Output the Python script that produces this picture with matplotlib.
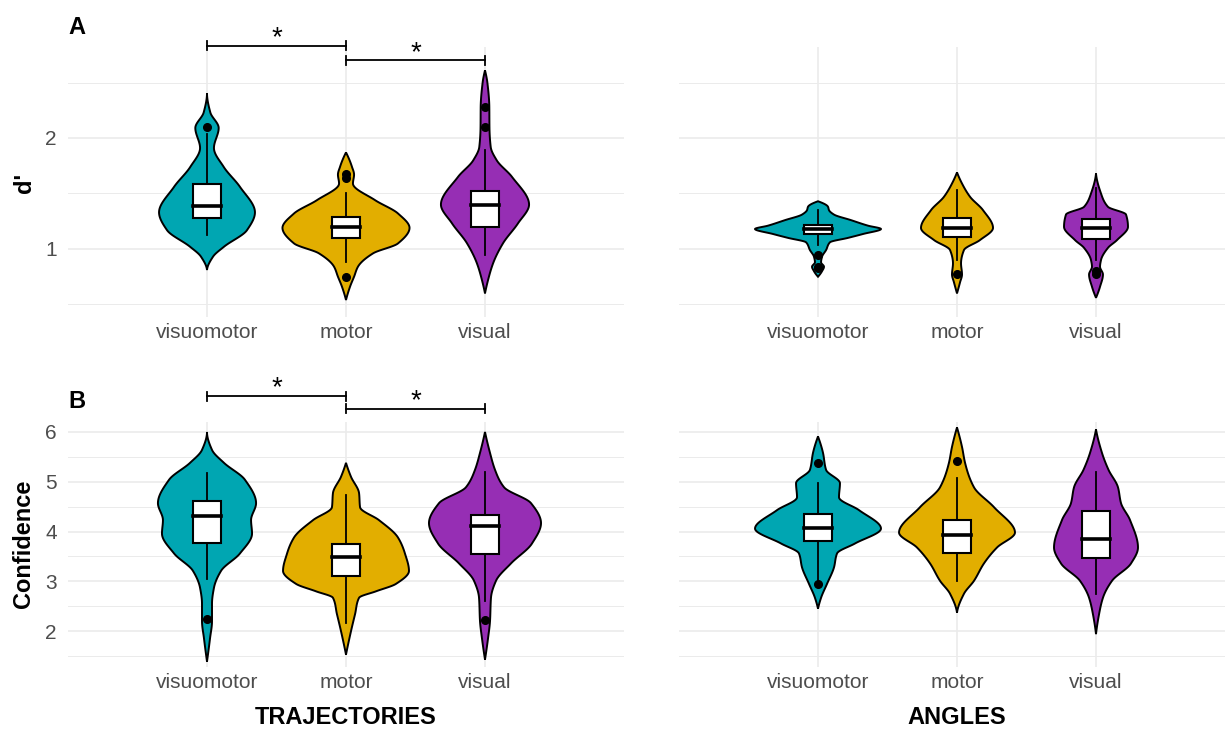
import numpy as np
import matplotlib
matplotlib.use("agg")
import matplotlib.pyplot as plt
from matplotlib.patches import Rectangle

plt.rcParams["font.family"] = ["Liberation Sans", "DejaVu Sans"]

conditions = ["visuomotor", "motor", "visual"]
colors = ["#00A6B2", "#E2AE00", "#962EB4"]

# violin outlines: y levels and half widths (x units)
traj_dprime_levels = [
    [0.81, 0.93, 1.02, 1.17, 1.33, 1.56, 1.74, 1.91, 2.09, 2.23, 2.405],
    [0.54, 0.66, 0.75, 0.84, 0.96, 1.05, 1.19, 1.32, 1.44, 1.59, 1.67, 1.74, 1.87],
    [0.60, 0.72, 0.87, 1.05, 1.23, 1.40, 1.65, 1.80, 1.92, 2.10, 2.28, 2.50, 2.61],
]
traj_dprime_halfw = [
    [0, .043, .122, .288, .345, .237, .120, .050, .084, .024, 0],
    [0, .029, .058, .086, .194, .374, .457, .374, .209, .050, .058, .043, 0],
    [0, .022, .058, .129, .237, .317, .194, .084, .041, .032, .031, .017, 0],
]
# q1, median, q3, lower whisker, upper whisker
traj_dprime_box = [(1.28, 1.39, 1.585, 1.13, 2.04),
                   (1.10, 1.20, 1.29, 0.88, 1.50),
                   (1.20, 1.40, 1.52, 0.95, 1.89)]
traj_dprime_out = [[2.10], [1.68, 1.64, 0.75], [2.28, 2.10]]

ang_dprime_levels = [
    [0.75, 0.80, 0.84, 0.88, 0.93, 0.99, 1.06, 1.10, 1.135, 1.18, 1.21, 1.26, 1.31, 1.35, 1.38, 1.43],
    [0.60, 0.70, 0.77, 0.87, 0.99, 1.08, 1.19, 1.35, 1.47, 1.59, 1.69],
    [0.56, 0.66, 0.77, 0.84, 0.90, 1.01, 1.08, 1.20, 1.31, 1.38, 1.50, 1.68],
]
ang_dprime_halfw = [
    [0, .029, .043, .022, .029, .058, .086, .216, .324, .453, .360, .237, .115, .079, .072, 0],
    [0, .022, .036, .029, .050, .165, .259, .187, .094, .036, 0],
    [0, .029, .050, .029, .036, .086, .151, .230, .216, .086, .036, 0],
]
ang_dprime_box = [(1.135, 1.18, 1.22, 1.04, 1.35),
                  (1.11, 1.19, 1.28, 0.90, 1.53),
                  (1.09, 1.19, 1.27, 0.90, 1.55)]
ang_dprime_out = [[0.95, 0.84, 0.83], [0.77], [0.77, 0.80]]

traj_conf_levels = [
    [1.39, 1.86, 2.20, 2.55, 2.87, 3.21, 3.56, 3.96, 4.23, 4.57, 5.04, 5.38, 5.64, 6.0],
    [1.53, 2.0, 2.34, 2.67, 2.80, 2.95, 3.21, 3.56, 3.88, 4.23, 4.49, 4.77, 5.10, 5.38],
    [1.43, 1.86, 2.20, 2.67, 3.01, 3.36, 3.76, 4.17, 4.57, 4.89, 5.24, 5.58, 6.0],
]
traj_conf_halfw = [
    [0, .022, .036, .036, .050, .101, .237, .324, .317, .353, .273, .122, .036, 0],
    [0, .036, .065, .094, .216, .360, .453, .424, .374, .237, .101, .094, .036, 0],
    [0, .022, .036, .043, .079, .187, .338, .403, .331, .137, .072, .036, 0],
]
traj_conf_box = [(3.78, 4.31, 4.61, 3.05, 5.18),
                 (3.11, 3.48, 3.76, 2.16, 4.73),
                 (3.54, 4.11, 4.33, 2.61, 5.20)]
traj_conf_out = [[2.24], [], [2.22]]

ang_conf_levels = [
    [2.45, 2.67, 2.95, 3.28, 3.56, 3.76, 4.06, 4.43, 4.69, 4.97, 5.24, 5.58, 5.91],
    [2.37, 2.75, 3.01, 3.36, 3.68, 3.98, 4.49, 4.89, 5.38, 5.70, 6.09],
    [1.94, 2.34, 2.67, 3.01, 3.36, 3.68, 4.23, 4.57, 4.89, 5.24, 5.58, 6.05],
]
ang_conf_halfw = [
    [0, .022, .065, .115, .137, .266, .453, .295, .151, .158, .058, .036, 0],
    [0, .050, .122, .194, .288, .417, .266, .122, .058, .036, 0],
    [0, .022, .050, .115, .252, .302, .245, .180, .158, .090, .043, 0],
]
ang_conf_box = [(3.82, 4.07, 4.35, 3.01, 4.97),
                (3.56, 3.94, 4.23, 3.01, 5.08),
                (3.46, 3.86, 4.41, 2.75, 5.20)]
ang_conf_out = [[5.38, 2.95], [5.42], []]


def pchip(x, y, xn):
    # shape preserving cubic so the outline is smooth but never overshoots
    x = np.asarray(x, float)
    y = np.asarray(y, float)
    h = np.diff(x)
    d = np.diff(y) / h
    n = len(x)
    m = np.zeros(n)
    for k in range(1, n - 1):
        if d[k - 1] * d[k] > 0:
            w1 = 2 * h[k] + h[k - 1]
            w2 = h[k] + 2 * h[k - 1]
            m[k] = (w1 + w2) / (w1 / d[k - 1] + w2 / d[k])
    for k, (h0, h1, d0, d1) in ((0, (h[0], h[1], d[0], d[1])),
                                (n - 1, (h[-1], h[-2], d[-1], d[-2]))):
        mk = ((2 * h0 + h1) * d0 - h0 * d1) / (h0 + h1)
        if np.sign(mk) != np.sign(d0):
            mk = 0.0
        elif np.sign(d0) != np.sign(d1) and abs(mk) > abs(3 * d0):
            mk = 3 * d0
        m[k] = mk
    idx = np.clip(np.searchsorted(x, xn) - 1, 0, n - 2)
    t = (xn - x[idx]) / h[idx]
    h00 = 2 * t ** 3 - 3 * t ** 2 + 1
    h10 = t ** 3 - 2 * t ** 2 + t
    h01 = -2 * t ** 3 + 3 * t ** 2
    h11 = t ** 3 - t ** 2
    return (h00 * y[idx] + h10 * h[idx] * m[idx]
            + h01 * y[idx + 1] + h11 * h[idx] * m[idx + 1])


def draw_panel(ax, levels, halfw, boxes, outs):
    for i in range(3):
        x = i + 1
        y = np.linspace(levels[i][0], levels[i][-1], 300)
        w = np.clip(pchip(levels[i], halfw[i], y), 0, None)
        ax.fill(np.concatenate([x - w, (x + w)[::-1]]),
                np.concatenate([y, y[::-1]]),
                facecolor=colors[i], edgecolor="black", lw=1.4, zorder=2)
        q1, med, q3, lo, hi = boxes[i]
        ax.plot([x, x], [lo, q1], color="black", lw=1.3, zorder=3)
        ax.plot([x, x], [q3, hi], color="black", lw=1.3, zorder=3)
        ax.add_patch(Rectangle((x - 0.1, q1), 0.2, q3 - q1, facecolor="white",
                               edgecolor="black", lw=1.5, zorder=4))
        ax.plot([x - 0.1, x + 0.1], [med, med], color="black", lw=2.6, zorder=5)
        if outs[i]:
            ax.plot([x] * len(outs[i]), outs[i], "o", color="black", ms=5.5, zorder=6)


def style_axes(ax, major, minor, ylim, show_y):
    ax.set_xlim(0, 4)
    ax.set_ylim(*ylim)
    ax.set_xticks([1, 2, 3])
    ax.set_xticklabels(conditions)
    ax.set_yticks(major)
    ax.set_yticks(minor, minor=True)
    ax.grid(which="major", color="#EBEBEB", lw=1.2)
    ax.grid(which="minor", axis="y", color="#EBEBEB", lw=0.7)
    ax.set_axisbelow(True)
    for s in ax.spines.values():
        s.set_visible(False)
    ax.tick_params(which="both", length=0, labelsize=15, colors="#4D4D4D", pad=4)
    ax.tick_params(axis="y", pad=8)
    if not show_y:
        ax.set_yticklabels([])


def bracket(ax, x1, x2, y, cap):
    ax.plot([x1, x2], [y, y], color="black", lw=1.3, clip_on=False, zorder=7)
    for xx in (x1, x2):
        ax.plot([xx, xx], [y - cap, y + cap], color="black", lw=1.3, clip_on=False, zorder=7)
    ax.annotate("*", xy=((x1 + x2) / 2, y), xytext=(0, -4), textcoords="offset points",
                ha="center", va="bottom", fontsize=20, annotation_clip=False)


W, H = 1225, 730
fig = plt.figure(figsize=(W / 100, H / 100), dpi=100)

ax_tl = fig.add_axes([68 / W, 1 - 317 / H, 556 / W, 270 / H])
ax_tr = fig.add_axes([679 / W, 1 - 317 / H, 556 / W, 270 / H])
ax_bl = fig.add_axes([68 / W, 1 - 667 / H, 556 / W, 245 / H])
ax_br = fig.add_axes([679 / W, 1 - 667 / H, 556 / W, 245 / H])

draw_panel(ax_tl, traj_dprime_levels, traj_dprime_halfw, traj_dprime_box, traj_dprime_out)
draw_panel(ax_tr, ang_dprime_levels, ang_dprime_halfw, ang_dprime_box, ang_dprime_out)
draw_panel(ax_bl, traj_conf_levels, traj_conf_halfw, traj_conf_box, traj_conf_out)
draw_panel(ax_br, ang_conf_levels, ang_conf_halfw, ang_conf_box, ang_conf_out)

top_lim = (0.387, 2.82)
bot_lim = (1.28, 6.2)
style_axes(ax_tl, [1, 2], [0.5, 1.5, 2.5], top_lim, True)
style_axes(ax_tr, [1, 2], [0.5, 1.5, 2.5], top_lim, False)
style_axes(ax_bl, [2, 3, 4, 5, 6], [1.5, 2.5, 3.5, 4.5, 5.5], bot_lim, True)
style_axes(ax_br, [2, 3, 4, 5, 6], [1.5, 2.5, 3.5, 4.5, 5.5], bot_lim, False)

bracket(ax_tl, 1, 2, 2.83, 0.04)
bracket(ax_tl, 2, 3, 2.70, 0.04)
bracket(ax_bl, 1, 2, 6.72, 0.09)
bracket(ax_bl, 2, 3, 6.47, 0.09)

fig.text(68 / W, 1 - 27 / H, "A", fontsize=17, fontweight="bold", va="center", ha="left")
fig.text(68 / W, 1 - 401 / H, "B", fontsize=17, fontweight="bold", va="center", ha="left")
fig.text(24 / W, 1 - 183 / H, "d'", fontsize=17, fontweight="bold", rotation=90,
         va="center", ha="center")
fig.text(24 / W, 1 - 544 / H, "Confidence", fontsize=17, fontweight="bold", rotation=90,
         va="center", ha="center")
fig.text(346 / W, 1 - 718 / H, "TRAJECTORIES", fontsize=17, fontweight="bold",
         va="center", ha="center")
fig.text(957 / W, 1 - 718 / H, "ANGLES", fontsize=17, fontweight="bold",
         va="center", ha="center")

fig.savefig("out.png", dpi=100)
